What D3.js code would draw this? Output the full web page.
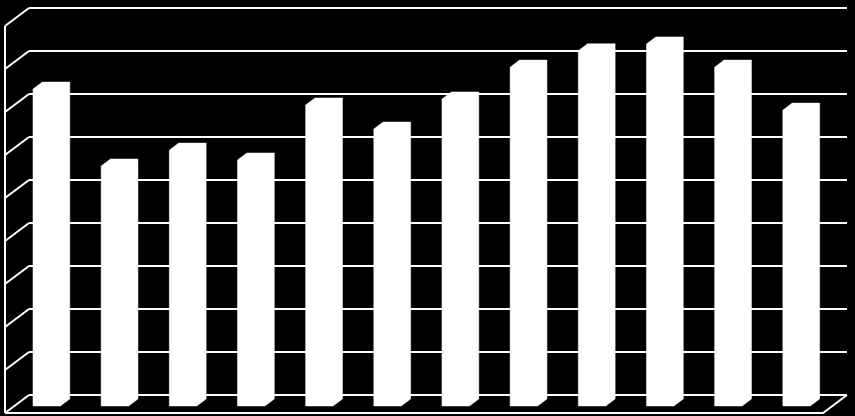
<html>
<head>
  <meta charset="utf-8">
  <title>Bars</title>
  <script src="https://cdnjs.cloudflare.com/ajax/libs/d3/7.8.5/d3.min.js"></script>
  <style>
    html, body { margin: 0; padding: 0; background: #000; }
    svg { display: block; }
  </style>
</head>
<body>
  <div id="viz"></div>
  <script type="text/javascript">
      // Data (no labels are shown on the chart)
      var categories = ["1", "2", "3", "4", "5", "6", "7", "8", "9", "10", "11", "12"];
      var values = [73.7, 55.8, 59.5, 57.2, 70.0, 64.4, 71.4, 78.8, 82.6, 84.2, 78.8, 68.8];
      var gridTicks = [0, 10, 20, 30, 40, 50, 60, 70, 80, 90];

      var width = 855,
          height = 416;

      // oblique 3D projection: full depth of the plot box
      var depthX = 24,
          depthY = 18,
          barFront = 0.39,   // bar front face depth (0 = front, 1 = back wall)
          barBack = 0.78;

      var svg = d3.select("#viz")
          .append("svg")
          .attr("width", width)
          .attr("height", height);

      svg.append("rect")
          .attr("width", width)
          .attr("height", height)
          .attr("fill", "#000");

      // front plane scales
      var x = d3.scaleBand()
          .domain(categories)
          .range([5, 823]);

      var y = d3.scaleLinear()
          .domain([0, 90])
          .range([413, 26]);

      function pt(px, v, d) {
          return [px + depthX * d, y(v) - depthY * d];
      }

      var grid = svg.append("g")
          .attr("stroke", "#fff")
          .attr("stroke-width", 2)
          .attr("fill", "none");

      // back wall gridlines
      grid.selectAll("line.back")
          .data(gridTicks)
          .enter()
          .append("line")
          .attr("class", "back")
          .attr("x1", function (d) { return pt(x.range()[0], d, 1)[0]; })
          .attr("y1", function (d) { return pt(x.range()[0], d, 1)[1]; })
          .attr("x2", function (d) { return pt(x.range()[1], d, 1)[0]; })
          .attr("y2", function (d) { return pt(x.range()[1], d, 1)[1]; });

      // side wall diagonals
      grid.selectAll("line.side")
          .data(gridTicks)
          .enter()
          .append("line")
          .attr("class", "side")
          .attr("x1", function (d) { return pt(x.range()[0], d, 0)[0]; })
          .attr("y1", function (d) { return pt(x.range()[0], d, 0)[1]; })
          .attr("x2", function (d) { return pt(x.range()[0], d, 1)[0]; })
          .attr("y2", function (d) { return pt(x.range()[0], d, 1)[1]; });

      // side wall vertical edge
      var vmax = gridTicks[gridTicks.length - 1];
      grid.append("line")
          .attr("x1", pt(x.range()[0], 0, 0)[0])
          .attr("y1", pt(x.range()[0], 0, 0)[1])
          .attr("x2", pt(x.range()[0], vmax, 0)[0])
          .attr("y2", pt(x.range()[0], vmax, 0)[1]);

      // floor front edge and right edge
      var floor = [pt(x.range()[0], 0, 0), pt(x.range()[1], 0, 0), pt(x.range()[1], 0, 1)];
      grid.append("path")
          .attr("d", d3.line()(floor));

      // bars: one white outline = front + top + side faces together
      var barW = x.bandwidth() * 0.403,
          barOff = x.bandwidth() * 0.273;

      svg.selectAll("path.bar")
          .data(categories.map(function (c, i) { return { cat: c, value: values[i] }; }))
          .enter()
          .append("path")
          .attr("class", "bar")
          .attr("fill", "#fff")
          .attr("stroke", "#fff")
          .attr("stroke-width", 0.5)
          .attr("d", function (d) {
              var x0 = x(d.cat) + barOff,
                  x1 = x0 + barW;
              return d3.line()([
                  pt(x0, 0, barFront), pt(x1, 0, barFront), pt(x1, 0, barBack),
                  pt(x1, d.value, barBack), pt(x0, d.value, barBack), pt(x0, d.value, barFront)
              ]) + "Z";
          });
  </script>
</body>
</html>
